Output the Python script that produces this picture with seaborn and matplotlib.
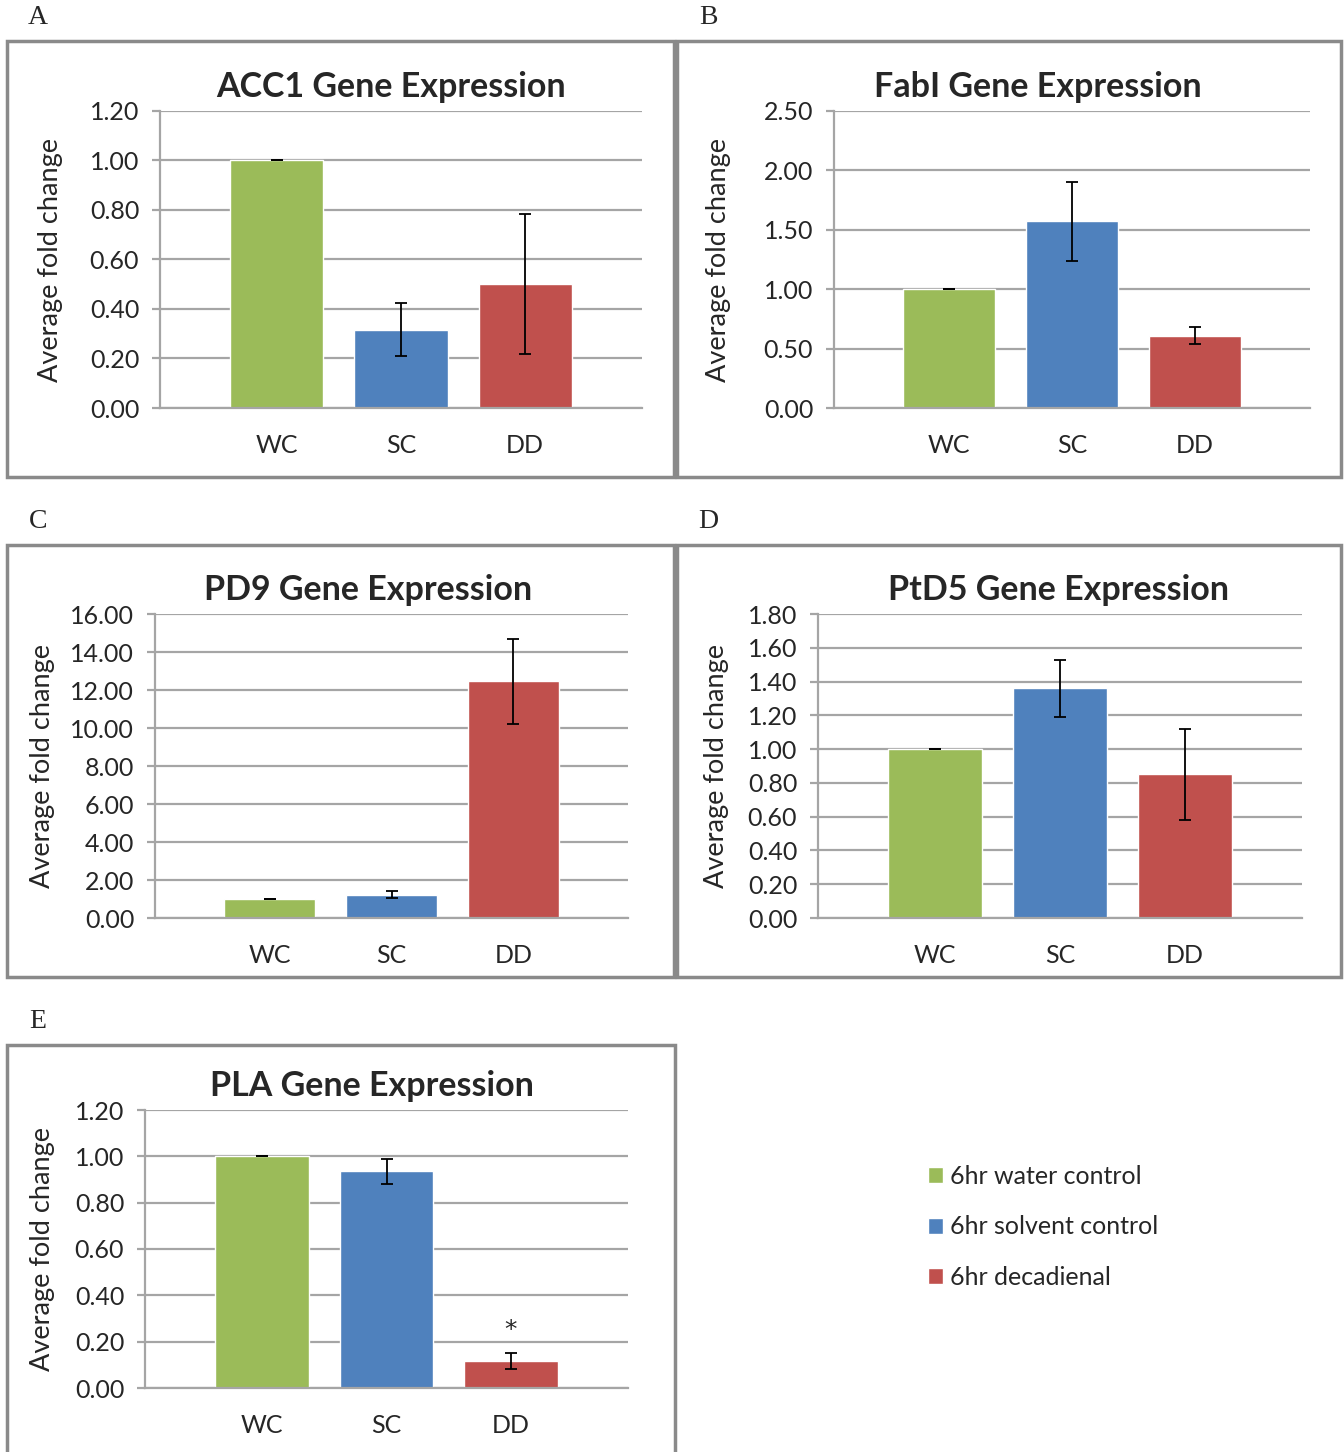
import matplotlib.pyplot as plt
from matplotlib.patches import Rectangle, Patch
from matplotlib.ticker import MultipleLocator, FormatStrFormatter
import pandas as pd
import seaborn as sns

W, H = 1344, 1452

groups = ["WC", "SC", "DD"]
legend_labels = ["6hr water control", "6hr solvent control", "6hr decadienal"]
colors = ["#9BBB59", "#4F81BD", "#C0504D"]

acc1_mean = [1.00, 0.317, 0.50]
acc1_err = [0.0, 0.107, 0.283]
fabi_mean = [1.00, 1.57, 0.61]
fabi_err = [0.0, 0.33, 0.07]
pd9_mean = [1.00, 1.22, 12.45]
pd9_err = [0.0, 0.18, 2.24]
ptd5_mean = [1.00, 1.36, 0.85]
ptd5_err = [0.0, 0.17, 0.27]
pla_mean = [1.00, 0.935, 0.117]
pla_err = [0.0, 0.055, 0.035]

sns.set_theme(style="white")
plt.rcParams["font.family"] = ["Lato", "DejaVu Sans"]

GRID = "#A5A5A5"
BOX = "#8A8A8A"

# letter, title, means, errs, ymax, step, box px (x0,y0,x1,y1), axes px (l,t,r,b), title center x, ylabel right x
panels = [
    ("A", "ACC1 Gene Expression", acc1_mean, acc1_err, 1.2, 0.2, (7, 41, 674, 477), (160, 111, 642, 408), 391, 63),
    ("B", "FabI Gene Expression", fabi_mean, fabi_err, 2.5, 0.5, (677, 41, 1341, 477), (834, 111, 1310, 408), 1038, 731),
    ("C", "PD9 Gene Expression", pd9_mean, pd9_err, 16, 2, (7, 545, 674, 977), (155, 614, 628, 918), 368, 55),
    ("D", "PtD5 Gene Expression", ptd5_mean, ptd5_err, 1.8, 0.2, (677, 545, 1341, 977), (818, 614, 1302, 918), 1059, 729),
    ("E", "PLA Gene Expression", pla_mean, pla_err, 1.2, 0.2, (7, 1045, 675, 1470), (145, 1110, 628, 1388), 372, 55),
]

fig = plt.figure(figsize=(W / 100, H / 100), dpi=100)

for letter, title, means, errs, ymax, step, box, axpx, tx, lx in panels:
    x0, y0, x1, y1 = box
    fig.add_artist(Rectangle((x0 / W, 1 - y1 / H), (x1 - x0) / W, (y1 - y0) / H,
                             transform=fig.transFigure, fill=False, ec=BOX, lw=2.5))
    fig.text((x0 + 31) / W, 1 - (y0 - 24) / H, letter, family="Liberation Serif",
             fontsize=20, ha="center", va="center")

    l, t, r, b = axpx
    ax = fig.add_axes([l / W, 1 - b / H, (r - l) / W, (b - t) / H])
    df = pd.DataFrame({"group": groups, "mean": means, "err": errs})
    sns.barplot(data=df, x="group", y="mean", hue="group", palette=colors,
                width=0.75, errorbar=None, legend=False, ax=ax, saturation=1)
    ax.errorbar(range(len(groups)), df["mean"], yerr=df["err"], fmt="none",
                ecolor="black", elinewidth=1.3, capsize=4, capthick=1.3, zorder=5)

    ax.set_xlim(-0.94, 2.94)
    ax.set_ylim(0, ymax)
    ax.yaxis.set_major_locator(MultipleLocator(step))
    ax.yaxis.set_major_formatter(FormatStrFormatter("%.2f"))
    ax.set_axisbelow(True)
    ax.yaxis.grid(True, color=GRID, lw=1.6)
    for s in ["top", "right"]:
        ax.spines[s].set_visible(False)
    for s in ["left", "bottom"]:
        ax.spines[s].set_color(GRID)
        ax.spines[s].set_linewidth(1.6)
    ax.tick_params(axis="y", left=True, length=6, width=1.6, color=GRID,
                   labelsize=18, pad=9)
    ax.tick_params(axis="x", length=0, labelsize=18, pad=19)
    ax.set_xlabel("")
    ax.set_ylabel("Average fold change", fontsize=19.5)
    ax.yaxis.set_label_coords((lx - l) / (r - l), 0.5)
    ax.annotate(title, xy=((tx - l) / (r - l), 1), xycoords="axes fraction",
                xytext=(0, 17), textcoords="offset points", ha="center",
                va="center", fontsize=24.5, fontweight="bold")

    if letter == "E":
        ax.text(2, means[2] + errs[2] + 0.1, "*", ha="center", va="center",
                fontsize=18, family="DejaVu Sans")

handles = [Patch(facecolor=c, label=lab) for c, lab in zip(colors, legend_labels)]
fig.legend(handles=handles, loc="center left", bbox_to_anchor=(905 / W, 1 - 1227 / H),
           frameon=False, fontsize=18, handlelength=0.6, handleheight=0.6,
           handletextpad=0.3, labelspacing=1.1)

plt.savefig("out.png", dpi=100)
